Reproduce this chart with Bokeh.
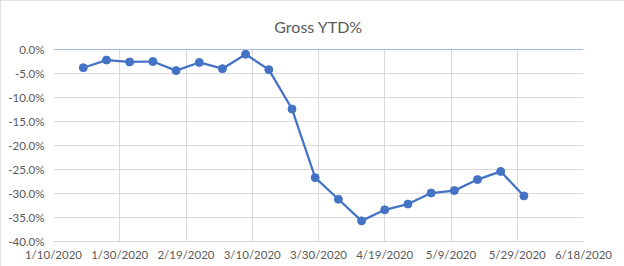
from datetime import datetime
from bokeh.plotting import figure
from bokeh.models import (FixedTicker, CustomJSTickFormatter, NumeralTickFormatter,
                          Span, Range1d, ColumnDataSource)
from bokeh.embed import file_html
from bokeh.resources import INLINE

dates = ["2020-01-19", "2020-01-26", "2020-02-02", "2020-02-09", "2020-02-16",
         "2020-02-23", "2020-03-01", "2020-03-08", "2020-03-15", "2020-03-22",
         "2020-03-29", "2020-04-05", "2020-04-12", "2020-04-19", "2020-04-26",
         "2020-05-03", "2020-05-10", "2020-05-17", "2020-05-24", "2020-05-31"]
gross_ytd = [-0.038, -0.022, -0.026, -0.025, -0.044,
             -0.027, -0.040, -0.010, -0.042, -0.124,
             -0.267, -0.312, -0.357, -0.334, -0.322,
             -0.299, -0.294, -0.271, -0.254, -0.305]
x_ticks = ["2020-01-10", "2020-01-30", "2020-02-19", "2020-03-10", "2020-03-30",
           "2020-04-19", "2020-05-09", "2020-05-29", "2020-06-18"]
y_ticks = [0.0, -0.05, -0.10, -0.15, -0.20, -0.25, -0.30, -0.35, -0.40]
title_text = "Gross YTD%"

def ms(s):
    return (datetime.strptime(s, "%Y-%m-%d") - datetime(1970, 1, 1)).total_seconds() * 1000

src = ColumnDataSource(dict(x=[datetime.strptime(d, "%Y-%m-%d") for d in dates], y=gross_ytd))

FONT = "Lato"
LABEL_COLOR = "#595959"
GRID = "#D9D9D9"
BLUE = "#4472C4"

x0, x1 = ms(x_ticks[0]), ms(x_ticks[-1])
p = figure(width=624, height=266, x_axis_type="datetime", output_backend="svg",
           toolbar_location=None, min_border_left=53, min_border_right=41,
           min_border_top=0, min_border_bottom=25,
           x_range=Range1d(x0, x1), y_range=Range1d(y_ticks[-1], y_ticks[0]))

p.title.text = title_text
p.title.align = "center"
p.title.text_font = FONT
p.title.text_font_size = "16px"
p.title.text_font_style = "normal"
p.title.text_color = LABEL_COLOR
p.title.offset = -8
p.title.standoff = 28

p.outline_line_color = None
p.background_fill_color = "white"
p.border_fill_color = "white"
p.styles = {"outline": "1px solid #D9D9D9", "outline-offset": "-1px"}

p.xaxis.ticker = FixedTicker(ticks=[ms(t) for t in x_ticks])
p.xaxis.formatter = CustomJSTickFormatter(code="""
const d = new Date(tick);
return (d.getUTCMonth()+1) + "/" + d.getUTCDate() + "/" + d.getUTCFullYear();
""")
p.yaxis.ticker = FixedTicker(ticks=y_ticks)
p.yaxis.formatter = NumeralTickFormatter(format="0.0%")

for ax in (p.xaxis, p.yaxis):
    ax.major_label_text_font = FONT
    ax.major_label_text_font_size = "11.5px"
    ax.major_label_text_color = LABEL_COLOR
    ax.major_tick_line_color = None
    ax.minor_tick_line_color = None
    ax.major_tick_out = 0
    ax.major_tick_in = 0
p.xaxis.axis_line_color = GRID
p.yaxis.axis_line_color = None
p.xaxis.major_label_standoff = 6
p.yaxis.major_label_standoff = 9

p.xgrid.grid_line_color = GRID
p.ygrid.grid_line_color = GRID

p.add_layout(Span(location=0.0, dimension="width", line_color="#4F77BE", line_width=1.2))

p.line("x", "y", source=src, line_color=BLUE, line_width=2.25)
p.scatter("x", "y", source=src, size=8, fill_color=BLUE, line_color=BLUE)

open("out.html", "w").write(file_html(p, INLINE))
